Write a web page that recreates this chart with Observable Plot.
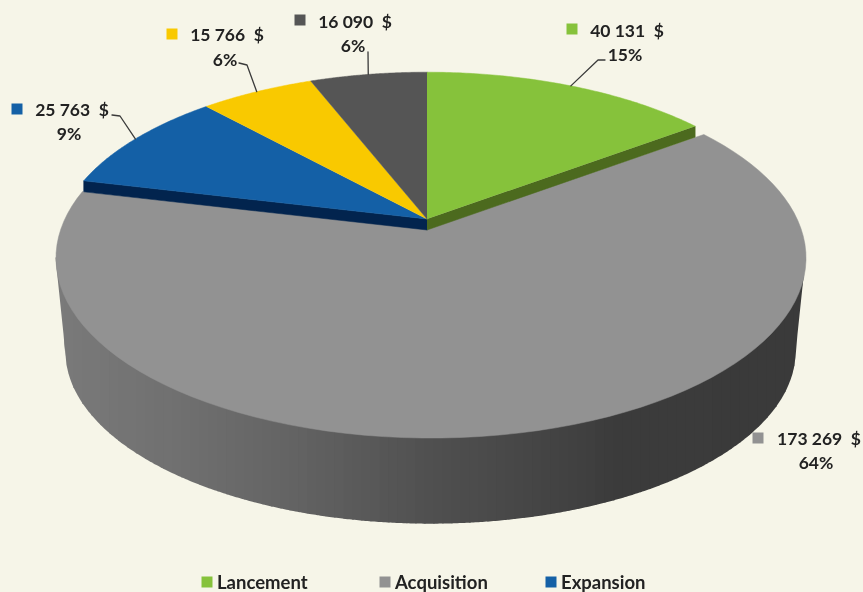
<!DOCTYPE html>
<html><head><meta charset="utf-8">
<script src="https://cdn.jsdelivr.net/npm/d3@7"></script>
<script src="https://cdn.jsdelivr.net/npm/@observablehq/plot@0.6"></script>
<style>html,body{margin:0;padding:0;background:#f6f5e8;overflow:hidden}svg{display:block;background:#f6f5e8;filter:blur(0.45px)}</style>
</head><body><div id="chart"></div>
<script>
// Data (clockwise from 12 o'clock)
const values = [40131, 173269, 25763, 15766, 16090];
const percents = ["15%", "64%", "9%", "6%", "6%"];
const colors = ["#86c23b", "#929292", "#1460a6", "#f9c900", "#555555"];
const legendNames = ["Lancement", "Acquisition", "Expansion"];

// Perspective pie geometry (px)
const frontPie = {cx: 427, cy: 219, R: 366, B: 170, k: 0.158};
const grayTop = {cx: 431, cy: 231, R: 370.8, B: 176, k: 0.15};
const grayBottom = {cx: 431, cy: 322, R: 360, B: 168, k: 0.169};
const grayApex = [427, 229];
const wall = 11;

const total = d3.sum(values);
const edges = [0, ...d3.cumsum(values)].map(v => v / total * 2 * Math.PI);
const proj = (g, t) => {
  const d = 1 + g.k * Math.cos(t);
  return [g.cx + g.R * Math.sin(t) / d, g.cy - g.B * Math.cos(t) / d];
};
const steps = (a, b, n) => d3.range(n + 1).map(i => a + (b - a) * i / n);
const wedge = (g, i) => [i === 1 ? grayApex : [g.cx, g.cy], ...steps(edges[i], edges[i + 1], 90).map(t => proj(g, t))];
const geomOf = i => i === 1 ? grayTop : frontPie;

// Rim of the big slice: vertical bands down to the lower outline
const widest = g => Math.acos(-g.k);
const outline = [
  proj(grayTop, widest(grayTop)),
  ...steps(widest(grayBottom), 2 * Math.PI - widest(grayBottom), 240).map(t => proj(grayBottom, t)),
  proj(grayTop, 2 * Math.PI - widest(grayTop))
].sort((a, b) => a[0] - b[0]);
const outlineY = x => {
  const i = Math.min(outline.length - 1, Math.max(1, d3.bisector(d => d[0]).left(outline, x)));
  const [a, b] = [outline[i - 1], outline[i]];
  return a[1] + (b[1] - a[1]) * (x - a[0]) / (b[0] - a[0] || 1);
};
const shade = d3.scaleLinear().domain([56, 200, 300, 430, 540, 620, 806])
  .range(["#7a7a7a", "#6e6e6e", "#626262", "#505050", "#454545", "#3b3b3b", "#3a3a3a"]);
const xMin = outline[0][0], xMax = outline[outline.length - 1][0];
const bandEdges = [...d3.range(xMin, xMax, 9), xMax];
const rimRows = d3.pairs(bandEdges).flatMap(([a, b], band) => {
  const last = Math.min(b + 1, xMax);
  const n = Math.max(2, Math.ceil((last - a) / 2));
  return steps(a, last, n).map(x => ({x, y1: proj(grayTop, widest(grayTop))[1], y2: outlineY(x), band, c: shade((a + b) / 2)}));
});

// Cut faces of the two slices that show one
const faces = [
  {i: 0, t: edges[1], c: "#4c6a1e"},
  {i: 2, t: edges[2], c: "#02244e"}
].flatMap(f => {
  const p = proj(frontPie, f.t), o = [frontPie.cx, frontPie.cy];
  return [o, p, [p[0], p[1] + wall], [o[0], o[1] + wall]].map(q => ({x: q[0], y: q[1], f: f.i, c: f.c}));
});

const tops = [1, 0, 2, 3, 4].flatMap(i => wedge(geomOf(i), i).map(p => ({x: p[0], y: p[1], i, c: colors[i]})));

// Labels
const money = v => d3.format(",")(v).replace(/,/g, " ") + "  $";
const labelAt = [
  {tx: 627, ty: 30, px: 625, py: 54, sx: 572, sy: 29, elbow: [[605, 60], [598, 60]]},
  {tx: 819, ty: 438, px: 816, py: 462, sx: 758, sy: 438, elbow: null},
  {tx: 72, ty: 109, px: 69, py: 133, sx: 17, sy: 109, elbow: [[112, 115], [120, 116]]},
  {tx: 227, ty: 34, px: 225, py: 59, sx: 172, sy: 34, elbow: [[239, 63], [247, 65]]},
  {tx: 355, ty: 21, px: 353, py: 45, sx: 300, sy: 20, elbow: [[368, 52]]}
];
const labels = labelAt.flatMap((l, i) => [
  {x: l.tx, y: l.ty, t: money(values[i])},
  {x: l.px, y: l.py, t: percents[i]}
]);
const swatches = labelAt.map((l, i) => ({x: l.sx, y: l.sy, c: colors[i]}));
const leaders = labelAt.flatMap((l, i) => {
  if (!l.elbow) return [];
  const end = proj(frontPie, (edges[i] + edges[i + 1]) / 2);
  return [...l.elbow, end].map(p => ({x: p[0], y: p[1], i}));
});
const legendX = [217, 395, 561], legendY = 582;
const legendRows = legendNames.map((n, i) => ({x: legendX[i], y: legendY, n, c: colors[i]}));

const font = {fontFamily: "Lato, Carlito, sans-serif", fontWeight: 700, fill: "#222222", fontSize: 17.5, dy: 1};
const chart = Plot.plot({
  width: 863, height: 592, margin: 0,
  style: {background: "#f6f5e8"},
  x: {domain: [0, 863], range: [-0.5, 862.5], axis: null},
  y: {domain: [0, 592], range: [-0.5, 591.5], axis: null},
  marks: [
    Plot.areaY(rimRows, {x: "x", y1: "y1", y2: "y2", z: "band", fill: "c"}),
    Plot.line(tops.filter(d => d.i === 1), {x: "x", y: "y", fill: "c", stroke: "c", strokeWidth: 0.5}),
    Plot.line(faces, {x: "x", y: "y", z: "f", fill: "c", stroke: "c", strokeWidth: 0.5}),
    Plot.line(tops.filter(d => d.i !== 1), {x: "x", y: "y", z: "i", fill: "c", stroke: "c", strokeWidth: 0.5}),
    Plot.line(leaders, {x: "x", y: "y", z: "i", stroke: "#3a3a3a", strokeWidth: 1.3, curve: "linear"}),
    Plot.dot(swatches, {x: "x", y: "y", symbol: "square", r: 6.2, fill: "c", stroke: null}),
    Plot.text(labels, {x: "x", y: "y", text: "t", ...font}),
    Plot.dot(legendRows, {x: d => d.x - 10, y: "y", symbol: "square", r: 6.2, fill: "c", stroke: null}),
    Plot.text(legendRows, {x: "x", y: "y", text: "n", textAnchor: "start", ...font, fontSize: 18.5})
  ]
});
document.getElementById("chart").append(chart);
</script></body></html>
